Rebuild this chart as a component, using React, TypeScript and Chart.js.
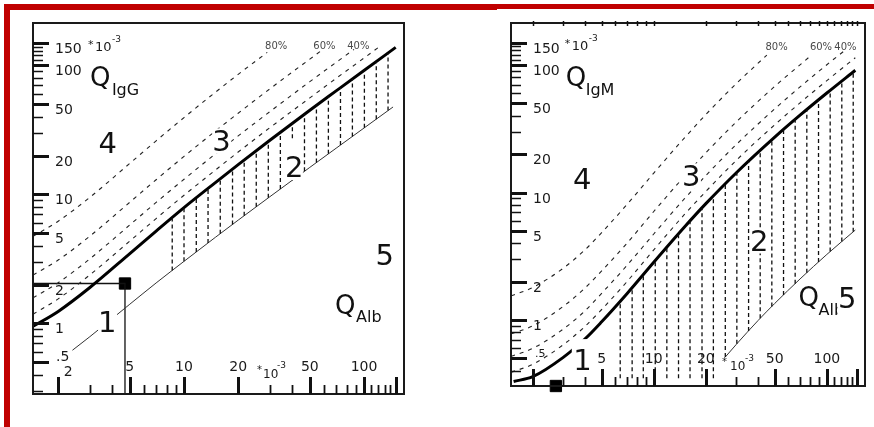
import { useEffect, useRef } from "react";
import { Chart, registerables } from "chart.js";

Chart.register(...registerables);

const FONT = '"DejaVu Sans", Verdana, sans-serif';

// ---------- IgG diagram, all quotients ×10⁻³ ----------
const iggUpperX = [1.45, 2, 3, 5, 7, 10, 15, 20, 30, 50, 70, 100, 150];
const iggUpperY = [0.95, 1.24, 1.9, 3.48, 5.2, 7.9, 12.4, 17.0, 26.3, 44.9, 63.4, 91.3, 137.8];
const iggLowerX = [2.4, 3, 5, 7, 10, 15, 20, 30, 50, 70, 100, 145];
const iggLowerY = [0.62, 0.79, 1.41, 2.06, 3.03, 4.67, 6.32, 9.6, 16.2, 22.8, 32.7, 47.6];
const igg20X = [1.45, 2, 3, 5, 7, 10, 15, 20, 30, 50, 70, 100, 122];
const igg20Y = [1.18, 1.55, 2.38, 4.35, 6.5, 9.85, 15.5, 21.3, 32.9, 56, 79.3, 114, 140];
const igg40X = [1.45, 2, 3, 5, 7, 10, 15, 20, 30, 50, 88];
const igg40Y = [1.58, 2.07, 3.17, 5.8, 8.67, 13.1, 20.7, 28.4, 43.8, 74.8, 133];
const igg60X = [1.45, 2, 3, 5, 7, 10, 15, 20, 30, 57];
const igg60Y = [2.37, 3.1, 4.75, 8.7, 13, 19.7, 31.1, 42.6, 65.8, 128];
const igg80X = [1.45, 2, 3, 5, 7, 10, 15, 20, 29];
const igg80Y = [4.73, 6.2, 9.5, 17.4, 26, 39.4, 62.2, 85.2, 126];
const iggHatchX = [8.6, 10.0, 11.7, 13.6, 15.9, 18.6, 21.6, 25.2, 29.4, 34.3, 40.0, 46.7, 54.4, 63.4, 74.0, 86.2, 100.5, 117, 136];
const iggPatientQAlb = 4.7;
const iggPatientQ = 2.04;

// ---------- IgM diagram, all quotients ×10⁻³ ----------
const igmUpperX = [1.55, 2, 3, 4, 5, 7, 10, 15, 20, 30, 50, 70, 100, 146];
const igmUpperY = [0.33, 0.36, 0.51, 0.71, 0.97, 1.61, 2.84, 5.34, 8.18, 14.3, 27.2, 40.4, 60.3, 91];
const igmLowerX = [25.8, 30, 40, 50, 70, 100, 146];
const igmLowerY = [0.51, 0.645, 0.99, 1.35, 2.1, 3.27, 5.08];
const igm20X = [1.5, 2, 3, 4, 5, 7, 10, 15, 20, 30, 50, 70, 100, 146];
const igm20Y = [0.39, 0.45, 0.64, 0.89, 1.21, 2.0, 3.55, 6.7, 10.2, 17.9, 34, 50.5, 75.4, 114];
const igm40X = [1.5, 2, 3, 4, 5, 7, 10, 15, 20, 30, 50, 70, 100, 125];
const igm40Y = [0.52, 0.6, 0.85, 1.18, 1.62, 2.68, 4.73, 8.9, 13.6, 23.8, 45.3, 67.3, 100.5, 128];
const igm60X = [1.5, 2, 3, 4, 5, 7, 10, 15, 20, 30, 50, 80];
const igm60Y = [0.78, 0.9, 1.28, 1.78, 2.43, 4.0, 7.1, 13.35, 20.5, 35.8, 68, 117];
const igm80X = [1.5, 2, 3, 4, 5, 7, 10, 15, 20, 30, 45];
const igm80Y = [1.55, 1.8, 2.55, 3.55, 4.85, 8.05, 14.2, 26.7, 40.9, 71.5, 119.6];
const igmHatchX = [6.4, 7.5, 8.7, 10.2, 11.9, 13.9, 16.2, 19.0, 22.1, 25.9, 30.2, 35.3, 41.2, 48.1, 56.2, 65.6, 76.6, 89.5, 104.5, 122, 142];
const igmHatchFloor = 0.35;
const igmPatientQAlb = 2.72;

// ---------- axis ticks ----------
const yMajorTicks = [0.5, 1, 2, 5, 10, 20, 50, 100, 150];
const yTickLabels = [".5", "1", "2", "5", "10", "20", "50", "100", "150"];
const yMinorTicks = [0.3, 0.4, 0.6, 0.7, 0.8, 0.9, 3, 4, 6, 7, 8, 9, 30, 40, 60, 70, 80, 90, 110, 120, 130, 140];
const xMajorTicks = [2, 5, 10, 20, 50, 100, 150];
const xLabelTicks = [5, 10, 20, 50, 100];
const xTickLabels = ["5", "10", "20", "50", "100"];
const xMinorTicks = [3, 4, 6, 7, 8, 9, 30, 40, 60, 70, 80, 90, 110, 120, 130, 140];
const fractionLabels = ["80%", "60%", "40%"];

type XY = { x: number; y: number };
const zip = (xs: number[], ys: number[]): XY[] => xs.map((x, i) => ({ x, y: ys[i] }));

// piecewise interpolation in log-log space
function interpLog(xs: number[], ys: number[], x: number): number | null {
  if (x < xs[0] || x > xs[xs.length - 1]) return null;
  for (let i = 1; i < xs.length; i++) {
    if (x <= xs[i]) {
      const t = Math.log(x / xs[i - 1]) / Math.log(xs[i] / xs[i - 1]);
      return ys[i - 1] * Math.pow(ys[i] / ys[i - 1], t);
    }
  }
  return null;
}

type RegionLabel = { text: string; x: number; y: number; box?: [number, number, number, number] };

interface PanelSpec {
  left: number;
  width: number;
  height: number;
  padding: { left: number; top: number; right: number; bottom: number };
  xMin: number;
  xMax: number;
  yMin: number;
  yMax: number;
  upperX: number[];
  upperY: number[];
  lowerX: number[];
  lowerY: number[];
  fractions: [number[], number[]][];
  hatchX: number[];
  hatchFloor: number;
  patient: { x: number; y: number | null };
  guides: boolean;
  subscript: string;
  qLabel: { x: number; y: number; subDx: number; subDy: number };
  albLabel: { x: number; y: number; subDx: number; subDy: number };
  yUnit: { x: number; y: number };
  xUnit: { x: number; y: number; starDx: number; expDx: number; expDy: number };
  fractionLabelX: number[];
  fractionLabelY: number;
  regions: RegionLabel[];
  showX2Label: boolean;
  halfLabelFont: number;
  halfLabelDx: number;
  topTicks: boolean;
}

const iggPanel: PanelSpec = {
  left: 0,
  width: 440,
  height: 427,
  padding: { left: 33, top: 23, right: 36, bottom: 33 },
  xMin: 1.449,
  xMax: 166.8,
  yMin: 0.284,
  yMax: 213,
  upperX: iggUpperX,
  upperY: iggUpperY,
  lowerX: iggLowerX,
  lowerY: iggLowerY,
  fractions: [
    [igg20X, igg20Y],
    [igg40X, igg40Y],
    [igg60X, igg60Y],
    [igg80X, igg80Y],
  ],
  hatchX: iggHatchX,
  hatchFloor: 0.3,
  patient: { x: iggPatientQAlb, y: iggPatientQ },
  guides: true,
  subscript: "IgG",
  qLabel: { x: 3.0, y: 69.3, subDx: 22, subDy: 9 },
  albLabel: { x: 69, y: 1.18, subDx: 21, subDy: 8 },
  yUnit: { x: 2.93, y: 129 },
  xUnit: { x: 27.5, y: 0.378, starDx: -6, expDx: 14, expDy: -10 },
  fractionLabelX: [32.5, 60.3, 93],
  fractionLabelY: 134,
  regions: [
    { text: "4", x: 3.76, y: 25.3 },
    { text: "3", x: 16.2, y: 26.0 },
    { text: "2", x: 40.8, y: 16.6, box: [-8.5, -26, 9, 14] },
    { text: "5", x: 130, y: 3.4 },
    { text: "1", x: 3.76, y: 1.04, box: [-9.5, -12, 9.5, 13] },
  ],
  showX2Label: true,
  halfLabelFont: 14,
  halfLabelDx: 23,
  topTicks: false,
};

const igmPanel: PanelSpec = {
  left: 440,
  width: 434,
  height: 427,
  padding: { left: 71, top: 23, right: 1, bottom: 41 },
  xMin: 1.497,
  xMax: 166.1,
  yMin: 0.304,
  yMax: 213.5,
  upperX: igmUpperX,
  upperY: igmUpperY,
  lowerX: igmLowerX,
  lowerY: igmLowerY,
  fractions: [
    [igm20X, igm20Y],
    [igm40X, igm40Y],
    [igm60X, igm60Y],
    [igm80X, igm80Y],
  ],
  hatchX: igmHatchX,
  hatchFloor: igmHatchFloor,
  patient: { x: igmPatientQAlb, y: null },
  guides: false,
  subscript: "IgM",
  qLabel: { x: 3.1, y: 68.4, subDx: 20, subDy: 9 },
  albLabel: { x: 68.6, y: 1.29, subDx: 20, subDy: 9 },
  yUnit: { x: 3.06, y: 131 },
  xUnit: { x: 27.6, y: 0.405, starDx: -8, expDx: 15, expDy: -9 },
  fractionLabelX: [51.2, 92.5, 128],
  fractionLabelY: 131,
  regions: [
    { text: "4", x: 3.85, y: 12.9 },
    { text: "3", x: 16.5, y: 13.5 },
    { text: "2", x: 40.5, y: 4.17 },
    { text: "1", x: 3.89, y: 0.494, box: [-11, -20, 8, 13] },
    { text: "5", x: 130.6, y: 1.5, box: [-9.5, -14.5, 10.5, 20.5] },
  ],
  showX2Label: false,
  halfLabelFont: 11,
  halfLabelDx: 24,
  topTicks: true,
};

function decorPlugin(spec: PanelSpec) {
  return {
    id: "reiberDecor",
    afterDatasetsDraw(chart: any) {
      const ctx: CanvasRenderingContext2D = chart.ctx;
      const area = chart.chartArea;
      const xs = chart.scales.x;
      const ys = chart.scales.y;
      const px = (v: number) => xs.getPixelForValue(v);
      const py = (v: number) => ys.getPixelForValue(v);
      ctx.save();
      ctx.textAlign = "left";
      ctx.textBaseline = "alphabetic";

      // axis quantity labels
      ctx.fillStyle = "#111111";
      {
        const qx = px(spec.qLabel.x);
        const qy = py(spec.qLabel.y);
        ctx.font = `26px ${FONT}`;
        ctx.fillText("Q", qx, qy);
        ctx.font = `16px ${FONT}`;
        ctx.fillText(spec.subscript, qx + spec.qLabel.subDx, qy + spec.qLabel.subDy);
      }
      {
        const qx = px(spec.albLabel.x);
        const qy = py(spec.albLabel.y);
        ctx.font = `16px ${FONT}`;
        ctx.fillText("Alb", qx + spec.albLabel.subDx, qy + spec.albLabel.subDy);
        ctx.font = `26px ${FONT}`;
        ctx.fillText("Q", qx, qy);
      }

      // region numbers with white backing
      ctx.font = `29px ${FONT}`;
      spec.regions.forEach((r) => {
        const m = ctx.measureText(r.text);
        const cx = px(r.x);
        const cy = py(r.y);
        const L = m.actualBoundingBoxLeft;
        const R = m.actualBoundingBoxRight;
        const A = m.actualBoundingBoxAscent;
        const D = m.actualBoundingBoxDescent;
        const tx = cx - (R - L) / 2;
        const ty = cy + (A - D) / 2;
        const box = r.box ?? [-(R + L) / 2 - 2, -(A + D) / 2 - 2, (R + L) / 2 + 2, (A + D) / 2 + 2];
        ctx.fillStyle = "#ffffff";
        ctx.fillRect(cx + box[0], cy + box[1], box[2] - box[0], box[3] - box[1]);
        ctx.fillStyle = "#111111";
        ctx.fillText(r.text, tx, ty);
      });

      // frame
      ctx.strokeStyle = "#1a1a1a";
      ctx.lineWidth = 2;
      ctx.strokeRect(area.left, area.top, area.right - area.left, area.bottom - area.top);

      // y ticks (pointing inward from the left edge)
      ctx.strokeStyle = "#111111";
      ctx.lineWidth = 3;
      yMajorTicks.forEach((v) => {
        const y = Math.round(py(v)) + 0.5;
        ctx.beginPath();
        ctx.moveTo(area.left, y);
        ctx.lineTo(area.left + 16, y);
        ctx.stroke();
      });
      ctx.lineWidth = 1.5;
      yMinorTicks.forEach((v) => {
        const y = Math.round(py(v)) + 0.5;
        if (y < area.top + 2 || y > area.bottom - 2) return;
        ctx.beginPath();
        ctx.moveTo(area.left, y);
        ctx.lineTo(area.left + 10, y);
        ctx.stroke();
      });

      // x ticks (pointing up from the bottom edge)
      ctx.lineWidth = 3;
      xMajorTicks.forEach((v) => {
        const x = Math.round(px(v)) + 0.5;
        ctx.beginPath();
        ctx.moveTo(x, area.bottom);
        ctx.lineTo(x, area.bottom - 17);
        ctx.stroke();
      });
      ctx.lineWidth = 1.8;
      xMinorTicks.forEach((v) => {
        const x = Math.round(px(v)) + 0.5;
        ctx.beginPath();
        ctx.moveTo(x, area.bottom);
        ctx.lineTo(x, area.bottom - 9);
        ctx.stroke();
      });
      if (spec.topTicks) {
        ctx.lineWidth = 1.5;
        [...xMajorTicks, ...xMinorTicks].forEach((v) => {
          const x = Math.round(px(v)) + 0.5;
          ctx.beginPath();
          ctx.moveTo(x, area.top - 2);
          ctx.lineTo(x, area.top + 3);
          ctx.stroke();
        });
      }

      // y tick labels
      ctx.fillStyle = "#1a1a1a";
      yMajorTicks.forEach((v, i) => {
        const label = yTickLabels[i];
        if (label === ".5") {
          ctx.font = `${spec.halfLabelFont}px ${FONT}`;
          ctx.fillText(label, area.left + spec.halfLabelDx, py(v) - 1);
        } else {
          ctx.font = `14px ${FONT}`;
          ctx.fillText(label, area.left + 22, py(v) + 10);
        }
      });

      // x tick labels
      ctx.font = `14px ${FONT}`;
      ctx.textAlign = "center";
      xLabelTicks.forEach((v, i) => {
        ctx.fillText(xTickLabels[i], px(v), area.bottom - 23);
      });
      if (spec.showX2Label) {
        ctx.fillText("2", px(2) + 10, area.bottom - 18);
      }

      // unit markers "*10^-3"
      ctx.textAlign = "left";
      {
        const ux = px(spec.yUnit.x);
        const uy = py(spec.yUnit.y);
        ctx.font = `11px ${FONT}`;
        ctx.fillText("*", ux, uy - 3);
        ctx.font = `13px ${FONT}`;
        ctx.fillText("10", ux + 7, uy);
        ctx.font = `9px ${FONT}`;
        ctx.fillText("-3", ux + 24, uy - 9);
      }
      {
        const ux = px(spec.xUnit.x);
        const uy = py(spec.xUnit.y);
        ctx.font = `10px ${FONT}`;
        ctx.fillText("*", ux + spec.xUnit.starDx, uy - 5);
        ctx.font = `12px ${FONT}`;
        ctx.fillText("10", ux, uy);
        ctx.font = `9px ${FONT}`;
        ctx.fillText("-3", ux + spec.xUnit.expDx, uy + spec.xUnit.expDy);
      }

      // intrathecal fraction labels
      ctx.fillStyle = "#4a4a4a";
      ctx.font = `10px ${FONT}`;
      ctx.textAlign = "center";
      fractionLabels.forEach((t, i) => {
        ctx.fillText(t, px(spec.fractionLabelX[i]), py(spec.fractionLabelY));
      });

      ctx.restore();
    },
  };
}

function buildConfig(spec: PanelSpec): any {
  const datasets: any[] = [];
  const base = { pointRadius: 0, fill: false, tension: 0 };

  // vertical hatching between the upper and lower limit curves
  spec.hatchX.forEach((x) => {
    const top = interpLog(spec.upperX, spec.upperY, x);
    const low = interpLog(spec.lowerX, spec.lowerY, x);
    if (top == null) return;
    const bottom = low ?? spec.hatchFloor;
    datasets.push({
      ...base,
      data: [
        { x, y: bottom },
        { x, y: top },
      ],
      borderColor: "#111111",
      borderWidth: 1.3,
      borderDash: [4, 3],
    });
  });

  // intrathecal fraction lines (20 / 40 / 60 / 80 %)
  spec.fractions.forEach(([fx, fy]) => {
    datasets.push({
      ...base,
      data: zip(fx, fy),
      borderColor: "#222222",
      borderWidth: 1.1,
      borderDash: [4, 5],
      cubicInterpolationMode: "monotone",
    });
  });

  // lower limit
  datasets.push({
    ...base,
    data: zip(spec.lowerX, spec.lowerY),
    borderColor: "#333333",
    borderWidth: 1,
    cubicInterpolationMode: "monotone",
  });

  // upper limit (discrimination line)
  datasets.push({
    ...base,
    data: zip(spec.upperX, spec.upperY),
    borderColor: "#000000",
    borderWidth: 3,
    borderJoinStyle: "round",
    cubicInterpolationMode: "monotone",
  });

  const patientY = spec.patient.y ?? spec.yMin;
  if (spec.guides) {
    datasets.push({
      ...base,
      data: [
        { x: spec.xMin, y: patientY },
        { x: spec.patient.x, y: patientY },
        { x: spec.patient.x, y: spec.yMin },
      ],
      borderColor: "#111111",
      borderWidth: 1.3,
    });
  }

  datasets.push({
    data: [{ x: spec.patient.x, y: patientY }],
    showLine: false,
    pointStyle: "rect",
    pointRadius: 8,
    pointBorderWidth: 1,
    pointBackgroundColor: "#000000",
    pointBorderColor: "#000000",
    clip: false,
  });

  return {
    type: "line",
    data: { datasets },
    options: {
      animation: false,
      responsive: false,
      maintainAspectRatio: false,
      events: [],
      layout: { padding: spec.padding },
      plugins: { legend: { display: false }, tooltip: { enabled: false } },
      scales: {
        x: { type: "logarithmic", min: spec.xMin, max: spec.xMax, bounds: "data", display: false },
        y: { type: "logarithmic", min: spec.yMin, max: spec.yMax, bounds: "data", display: false },
      },
    },
    plugins: [decorPlugin(spec)],
  };
}

function Panel({ spec }: { spec: PanelSpec }) {
  const ref = useRef<HTMLCanvasElement>(null);
  useEffect(() => {
    if (!ref.current) return;
    const chart = new Chart(ref.current, buildConfig(spec));
    return () => chart.destroy();
  }, [spec]);
  return (
    <canvas
      ref={ref}
      width={spec.width}
      height={spec.height}
      style={{ position: "absolute", left: spec.left, top: 0, width: spec.width, height: spec.height }}
    />
  );
}

export default function App() {
  const red = "#c00000";
  return (
    <div
      style={{
        position: "absolute",
        left: 0,
        top: 0,
        width: 874,
        height: 427,
        overflow: "hidden",
        background: "#ffffff",
      }}
    >
      <Panel spec={iggPanel} />
      <Panel spec={igmPanel} />
      <div style={{ position: "absolute", left: 4, top: 4, width: 493, height: 6, background: red }} />
      <div style={{ position: "absolute", left: 497, top: 4, width: 377, height: 5, background: red }} />
      <div style={{ position: "absolute", left: 4, top: 4, width: 6, height: 423, background: red }} />
    </div>
  );
}
